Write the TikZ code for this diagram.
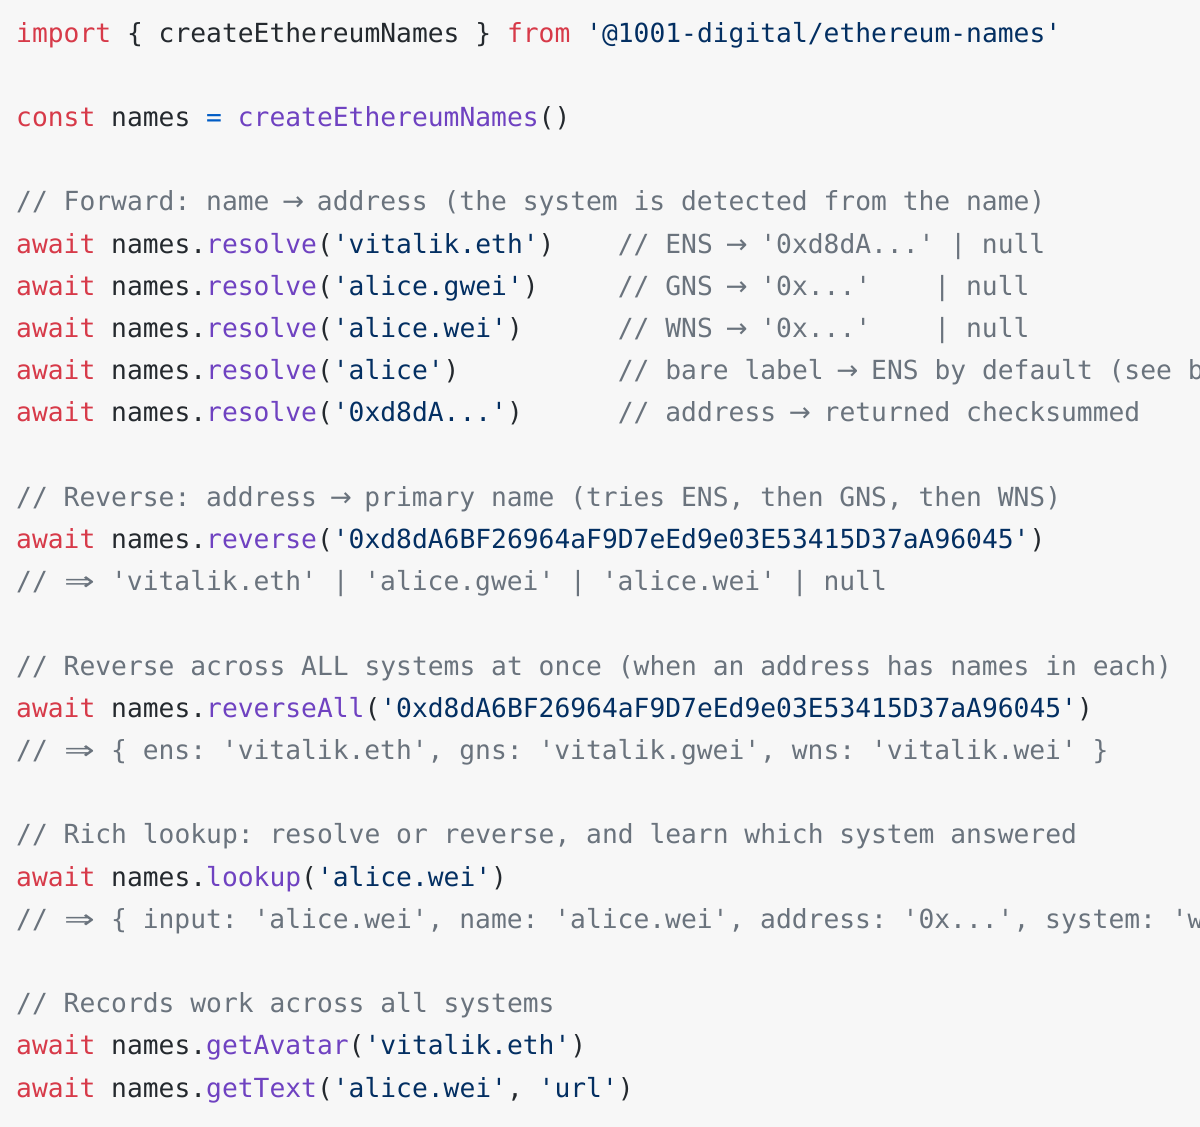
\documentclass[tikz,border=0pt]{standalone}
\usepackage{fontspec}
\newfontfamily\codefont{DejaVu Sans Mono}
\definecolor{bg}{HTML}{F7F7F7}
\definecolor{kw}{HTML}{D73A49}
\definecolor{fn}{HTML}{6F42C1}
\definecolor{st}{HTML}{032F62}
\definecolor{cm}{HTML}{6A737D}
\definecolor{tx}{HTML}{24292E}
\definecolor{op}{HTML}{005CC5}
\newcommand\K[1]{\textcolor{kw}{#1}}
\newcommand\F[1]{\textcolor{fn}{#1}}
\newcommand\Sx[1]{\textcolor{st}{#1}}
\newcommand\C[1]{\textcolor{cm}{#1}}
\newcommand\Ar{{\fontspec{DejaVu Sans}\hbox to 0.6em{\hss→\hss}}}
\newcommand\DA{{\fontspec{DejaVu Sans}\hbox to 1.2em{\hss\scalebox{1.4}[1]{⇒}\hss}}}
\tikzset{code/.style={anchor=base west,inner sep=0pt,text=tx,font=\codefont\fontsize{26.3}{30}\selectfont\frenchspacing}}
\begin{document}
\begin{tikzpicture}[x=1pt,y=-1pt]
\fill[bg] (0,0) rectangle (1200,1127);
\clip (0,0) rectangle (1200,1127);
\def\Y#1{42+42.2*#1}
\node[code] (l0) at (16,{\Y{0}}) {\K{import} \{ createEthereumNames \} \K{from} \Sx{'@1001-digital/ethereum-names'}};
\node[code] (l2) at (16,{\Y{2}}) {\K{const} names \textcolor{op}{=} \F{createEthereumNames}()};
\node[code] (l4) at (16,{\Y{4}}) {\C{// Forward: name \Ar{} address (the system is detected from the name)}};
\node[code] (l5) at (16,{\Y{5}}) {\K{await} names.\F{resolve}(\Sx{'vitalik.eth'})~~~~\C{// ENS \Ar{} '0xd8dA...' | null}};
\node[code] (l6) at (16,{\Y{6}}) {\K{await} names.\F{resolve}(\Sx{'alice.gwei'})~~~~~\C{// GNS \Ar{} '0x...'~~~~| null}};
\node[code] (l7) at (16,{\Y{7}}) {\K{await} names.\F{resolve}(\Sx{'alice.wei'})~~~~~~\C{// WNS \Ar{} '0x...'~~~~| null}};
\node[code] (l8) at (16,{\Y{8}}) {\K{await} names.\F{resolve}(\Sx{'alice'})~~~~~~~~~~\C{// bare label \Ar{} ENS by default (see below)}};
\node[code] (l9) at (16,{\Y{9}}) {\K{await} names.\F{resolve}(\Sx{'0xd8dA...'})~~~~~~\C{// address \Ar{} returned checksummed}};
\node[code] (l11) at (16,{\Y{11}}) {\C{// Reverse: address \Ar{} primary name (tries ENS, then GNS, then WNS)}};
\node[code] (l12) at (16,{\Y{12}}) {\K{await} names.\F{reverse}(\Sx{'0xd8dA6BF26964aF9D7eEd9e03E53415D37aA96045'})};
\node[code] (l13) at (16,{\Y{13}}) {\C{// \DA{} 'vitalik.eth' | 'alice.gwei' | 'alice.wei' | null}};
\node[code] (l15) at (16,{\Y{15}}) {\C{// Reverse across ALL systems at once (when an address has names in each)}};
\node[code] (l16) at (16,{\Y{16}}) {\K{await} names.\F{reverseAll}(\Sx{'0xd8dA6BF26964aF9D7eEd9e03E53415D37aA96045'})};
\node[code] (l17) at (16,{\Y{17}}) {\C{// \DA{} \{ ens: 'vitalik.eth', gns: 'vitalik.gwei', wns: 'vitalik.wei' \}}};
\node[code] (l19) at (16,{\Y{19}}) {\C{// Rich lookup: resolve or reverse, and learn which system answered}};
\node[code] (l20) at (16,{\Y{20}}) {\K{await} names.\F{lookup}(\Sx{'alice.wei'})};
\node[code] (l21) at (16,{\Y{21}}) {\C{// \DA{} \{ input: 'alice.wei', name: 'alice.wei', address: '0x...', system: 'wns' \}}};
\node[code] (l23) at (16,{\Y{23}}) {\C{// Records work across all systems}};
\node[code] (l24) at (16,{\Y{24}}) {\K{await} names.\F{getAvatar}(\Sx{'vitalik.eth'})};
\node[code] (l25) at (16,{\Y{25}}) {\K{await} names.\F{getText}(\Sx{'alice.wei'}, \Sx{'url'})};
\end{tikzpicture}
\end{document}
